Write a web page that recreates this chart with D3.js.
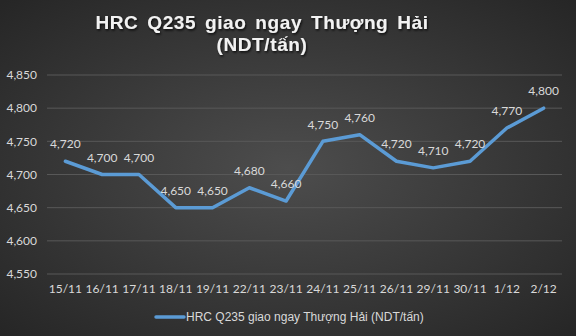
<!DOCTYPE html>
<html>
<head>
<meta charset="utf-8">
<script src="https://cdn.jsdelivr.net/npm/d3@7"></script>
<style>
  body { margin: 0; background: #333; }
  svg { display: block; }
</style>
</head>
<body>
<svg id="chart" width="576" height="336"></svg>
<script>
// data
var dates = ["15/11","16/11","17/11","18/11","19/11","22/11","23/11","24/11","25/11","26/11","29/11","30/11","1/12","2/12"];
var prices = [4720, 4700, 4700, 4650, 4650, 4680, 4660, 4750, 4760, 4720, 4710, 4720, 4770, 4800];
var yTicks = [4550, 4600, 4650, 4700, 4750, 4800, 4850];
var seriesName = "HRC Q235 giao ngay Thượng Hải (NDT/tấn)";

var width = 576, height = 336;
var margin = {top: 75, right: 14, bottom: 62, left: 47};

var svg = d3.select("svg#chart");
var defs = svg.append("defs");

// background gradient, lighter in the middle
var grad = defs.append("radialGradient")
    .attr("id", "bg").attr("cx", "50%").attr("cy", "50%").attr("r", "70%");
grad.append("stop").attr("offset", "0%").attr("stop-color", "#4d4d4d");
grad.append("stop").attr("offset", "100%").attr("stop-color", "#262626");

var shadow = defs.append("filter").attr("id", "shadow")
    .attr("x", "-10%").attr("y", "-20%").attr("width", "120%").attr("height", "140%");
shadow.append("feDropShadow")
    .attr("dx", 1).attr("dy", 1.5).attr("stdDeviation", 1.2)
    .attr("flood-color", "#000").attr("flood-opacity", 0.8);

svg.append("rect").attr("width", width).attr("height", height).attr("fill", "url(#bg)");

var x = d3.scaleBand().domain(dates).range([margin.left, width - margin.right]);
var y = d3.scaleLinear().domain([4550, 4850]).range([height - margin.bottom, margin.top]);

// grid lines
svg.append("g")
    .selectAll("line")
    .data(yTicks)
    .enter()
    .append("line")
    .attr("x1", margin.left).attr("x2", width - margin.right)
    .attr("y1", function (d) { return y(d); })
    .attr("y2", function (d) { return y(d); })
    .attr("stroke", "#585858").attr("stroke-width", 1);

var fmt = d3.format(",");

// y axis labels
svg.append("g")
    .selectAll("text")
    .data(yTicks)
    .enter()
    .append("text")
    .attr("x", 37)
    .attr("y", function (d) { return y(d); })
    .attr("dy", "0.35em")
    .attr("text-anchor", "end")
    .attr("fill", "#d9d9d9")
    .style("font", "12px Lato, 'Open Sans', sans-serif")
    .text(function (d) { return fmt(d); });

// x axis labels
svg.append("g")
    .selectAll("text")
    .data(dates)
    .enter()
    .append("text")
    .attr("x", function (d) { return x(d) + x.bandwidth() / 2; })
    .attr("y", 289)
    .attr("dy", "0.35em")
    .attr("text-anchor", "middle")
    .attr("fill", "#d9d9d9")
    .style("font", "12px Lato, 'Open Sans', sans-serif")
    .text(function (d) { return d; });

// the line
var line = d3.line()
    .x(function (d, i) { return x(dates[i]) + x.bandwidth() / 2; })
    .y(function (d) { return y(d); });

svg.append("path")
    .datum(prices)
    .attr("d", line)
    .attr("fill", "none")
    .attr("stroke", "#5b9bd5")
    .attr("stroke-width", 3.5)
    .attr("stroke-linejoin", "round")
    .attr("stroke-linecap", "round");

// data labels above each point
svg.append("g")
    .selectAll("text")
    .data(prices)
    .enter()
    .append("text")
    .attr("x", function (d, i) { return x(dates[i]) + x.bandwidth() / 2; })
    .attr("y", function (d) { return y(d) - 17; })
    .attr("dy", "0.35em")
    .attr("text-anchor", "middle")
    .attr("fill", "#d9d9d9")
    .style("font", "12px Lato, 'Open Sans', sans-serif")
    .text(function (d) { return fmt(d); });

// title
var titleX = 262;
var title = svg.append("text")
    .attr("x", titleX)
    .attr("text-anchor", "middle")
    .attr("fill", "#f2f2f2")
    .attr("filter", "url(#shadow)")
    .style("font", "bold 19px 'Liberation Sans', Arial, sans-serif")
    .style("letter-spacing", "0.6px")
    .style("word-spacing", "3px");
title.append("tspan").attr("x", titleX).attr("y", 29).text("HRC Q235 giao ngay Thượng Hải");
title.append("tspan").attr("x", titleX).attr("y", 51).text("(NDT/tấn)");

// legend
var legend = svg.append("g");
legend.append("line")
    .attr("x1", 156).attr("x2", 184)
    .attr("y1", 317).attr("y2", 317)
    .attr("stroke", "#5b9bd5").attr("stroke-width", 3.5)
    .attr("stroke-linecap", "round");
legend.append("text")
    .attr("x", 186).attr("y", 317)
    .attr("dy", "0.35em")
    .attr("fill", "#d9d9d9")
    .style("font", "12px 'Liberation Sans', Arial, sans-serif")
    .text(seriesName);
</script>
</body>
</html>
